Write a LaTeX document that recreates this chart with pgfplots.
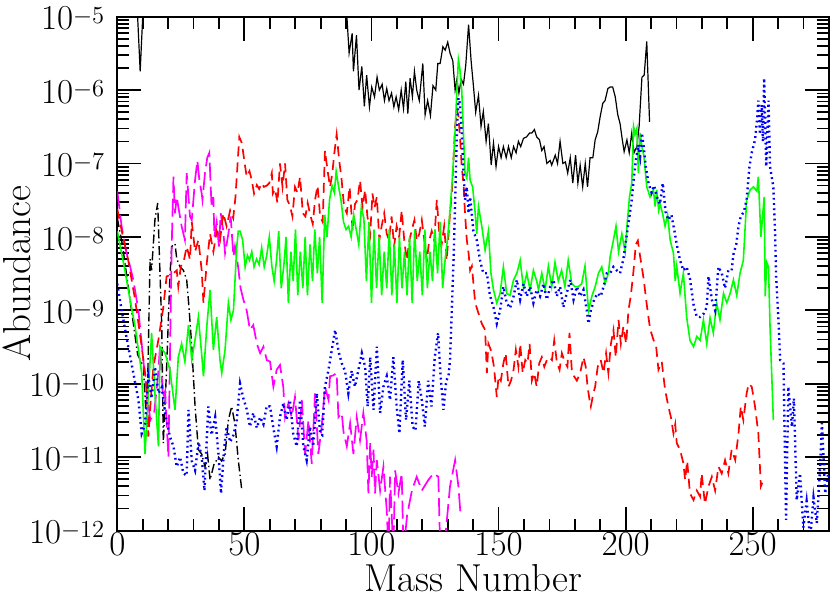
\RequirePackage{fix-cm}
\documentclass[border=0pt]{standalone}
\usepackage{pgfplots}
\pgfplotsset{compat=1.18}
\definecolor{mgt}{RGB}{255,0,255}
\definecolor{grn}{RGB}{0,255,0}
\definecolor{rd}{RGB}{255,0,0}
\definecolor{bl}{RGB}{0,0,255}
\begin{document}
\begin{tikzpicture}
\begin{axis}[
  name=ax, scale only axis, width=355.85pt, height=256.9pt,
  xmin=0, xmax=280, ymode=log, ymin=1e-12, ymax=1e-5,
  xtick={0,50,100,150,200,250}, minor xtick={0,10,...,280},
  ytick={1e-12,1e-11,1e-10,1e-9,1e-8,1e-7,1e-6,1e-5},
  log number format basis/.code 2 args={$#1^{\raisebox{-3pt}{$\scriptstyle\pgfmathprintnumber{#2}$}}$},
  tick align=inside, xtick pos=both, ytick pos=both,
  major tick length=12pt, minor tick length=6pt,
  tick style={black, line width=0.9pt},
  axis line style={line width=1pt},
  tick label style={font=\fontsize{17.5}{20}\selectfont},
  xticklabel style={yshift=2.5pt},
  yticklabel style={anchor=base east, xshift=-2.5pt, yshift=-6.6pt},
  xlabel={Mass Number}, ylabel={Abundance},
  label style={font=\fontsize{19.5}{22}\selectfont},
  xlabel style={at={(axis description cs:0.5,-0.118)}, anchor=base},
  ylabel style={at={(axis description cs:-0.122,0.5)}, anchor=base},
]
% black solid
\addplot[black, line width=0.6pt] coordinates {
(7,5.5e-5)(9,1.8e-6)(11,5.5e-5)(89.5,3e-5)
(91.2,3.2e-6)(92.4,5.9e-6)(92.9,1.8e-6)(94.1,5.6e-6)(95.1,1.0e-6)(96.2,2.1e-6)
(97.2,6.0e-7)(98.1,1.6e-6)(99.2,5.9e-7)(100.1,1.1e-6)(101.2,8.1e-7)(102.2,1.5e-6)
(103.1,1.0e-6)(104.2,1.2e-6)(105.1,7.2e-7)(106.0,1.05e-6)(106.9,7.2e-7)(107.9,9.1e-7)
(108.8,5.9e-7)(109.7,8.1e-7)(110.7,5.4e-7)(111.7,1.0e-6)(112.6,5.6e-7)(113.5,1.3e-6)
(114.3,4.8e-7)(115.2,1.45e-6)(116.1,8.1e-7)(116.9,1.8e-6)(117.8,1.0e-6)(118.8,7.2e-7)
(120.2,2.3e-6)(121.1,4.6e-7)(122.1,7.2e-7)(123.2,4.5e-7)(124.2,1.15e-6)(125.3,1.0e-6)
(126.1,2.3e-6)(127.0,2.3e-6)(128.1,3.9e-6)(129.0,3.5e-6)(130.0,4.5e-6)(130.9,3.2e-6)
(132.0,2.5e-6)(132.9,1.0e-6)(133.6,1.4e-6)(134.4,9.1e-7)(135.3,1.4e-6)(136.2,1.2e-6)
(137.1,2.2e-6)(138.2,7.8e-6)(139.2,2.5e-6)(140.1,1.15e-6)(141.0,5.0e-7)(142.1,8.5e-7)
(143.1,3.2e-7)(144.0,5.1e-7)(145.1,2.0e-7)(146.0,3.5e-7)(147.1,9.5e-8)(148.0,1.9e-7)
(149.0,9.1e-8)(150.0,1.7e-7)(151.0,1.2e-7)(151.9,1.7e-7)(153.0,1.2e-7)(153.9,1.7e-7)
(155.0,1.2e-7)(155.9,1.7e-7)(156.9,1.4e-7)(157.8,2.0e-7)(158.7,1.7e-7)(159.8,2.2e-7)
(161.0,2.3e-7)(162.2,2.6e-7)(163.1,2.6e-7)(164.1,2.9e-7)(165.0,2.3e-7)(166.1,2.1e-7)
(167.0,1.5e-7)(167.9,1.7e-7)(169.0,1.0e-7)(170.3,1.1e-7)(170.9,9.5e-8)(172.3,1.3e-7)
(173.2,1.0e-7)(174.2,2.0e-7)(175.3,1.0e-7)(176.3,1.05e-7)(177.2,7.4e-8)(178.2,1.2e-7)
(179.2,5.4e-8)(180.3,1.3e-7)(181.2,5.4e-8)(182.1,9.5e-8)(183.1,4.8e-8)(184.1,1.0e-7)
(185.0,4.8e-8)(186.0,1.2e-7)(187.1,1.2e-7)(188.0,2.1e-7)(189.0,2.7e-7)(190.0,4.4e-7)
(191.0,6.6e-7)(191.9,7.2e-7)(193.0,1.05e-6)(193.9,1.1e-6)(194.9,1.1e-6)(195.9,8.1e-7)
(196.9,4.6e-7)(197.8,3.5e-7)(198.6,2.2e-7)(199.4,1.45e-7)(200.5,2.1e-7)(201.4,1.4e-7)
(202.4,2.6e-7)(203.3,1.4e-7)(204.4,1.7e-7)(205.3,3.2e-7)(206.4,1.5e-6)(207.3,1.6e-6)
(208.3,4.6e-6)(209.4,3.7e-7)
};
% black dash-dot
\addplot[black, line width=0.7pt, dash pattern=on 4.5pt off 1.6pt on 0.7pt off 1.6pt] coordinates {
(0,1.8e-8)(2.0,7.9e-9)(4.0,2.5e-9)(6.0,7.9e-10)(8.0,2.5e-10)(10.3,1.7e-10)(11.6,2.5e-11)
(12.9,5.0e-9)(13.5,3.5e-9)(14.8,1.7e-8)(15.9,2.9e-8)(16.4,8.3e-9)(17.5,6.0e-10)(18.1,1.55e-11)
(19.4,1.6e-10)(20.7,2.9e-9)(21.4,7.4e-9)(22.7,8.1e-9)(23.4,5.0e-9)(24.7,3.9e-9)(26.0,3.5e-9)
(27.3,2.6e-9)(28.2,1.1e-9)(29.3,3.2e-10)(30.6,4.9e-11)(31.9,1.26e-11)(33.2,1.1e-11)
(34.5,7.4e-12)(35.5,1.1e-11)(36.5,4.9e-12)(38.0,7.9e-12)(39.8,1.0e-11)(41.0,8.9e-12)
(42.4,1.1e-11)(43.7,3.2e-11)(45.0,4.9e-11)(46.3,2.8e-11)(47.6,9.1e-12)(49.0,3.5e-12)
};
% magenta long dash
\addplot[mgt, line width=0.85pt, dash pattern=on 9pt off 3pt] coordinates {
(0,4.2e-8)(1.7,1.4e-8)(3.5,6.3e-9)(5.0,4.0e-9)(6.3,2.6e-9)(8.3,1.0e-9)(10.0,2.5e-10)
(11.5,7.9e-11)(13.0,3.2e-11)(14.5,4.0e-11)(16.0,1.26e-10)(16.8,3.2e-10)(18.0,6.3e-11)
(18.8,7.9e-11)(20.1,1.0e-11)(21.4,7.4e-9)(22.1,6.6e-8)(22.7,2.1e-8)(23.4,3.5e-8)(24.0,2.6e-8)
(25.3,1.4e-8)(26.6,9.1e-9)(27.3,7.4e-8)(28.6,1.9e-8)(29.3,1.7e-8)(30.6,6.0e-8)(31.5,1.1e-7)
(32.3,5.9e-8)(33.2,3.9e-8)(33.5,3.2e-8)(34.5,7.4e-8)(35.4,1.2e-7)(36.2,1.4e-7)(37.1,2.5e-8)
(37.8,3.5e-8)(38.2,1.0e-8)(39.1,1.6e-8)(40.0,7.4e-9)(40.7,2.1e-8)(41.7,1.2e-8)(42.4,6.0e-9)
(43.7,1.1e-8)(44.6,1.9e-8)(45.7,5.4e-9)(46.3,7.4e-9)(47.5,4.0e-9)(48.5,2.0e-9)(49.6,1.4e-9)
(50.9,1.0e-9)(52.2,5.4e-10)(53.5,6.3e-10)(54.9,3.5e-10)(56.2,2.6e-10)(57.5,3.2e-10)
(58.8,2.1e-10)(60.1,2.0e-10)(61.4,9.1e-11)(62.7,1.55e-10)(64.0,1.8e-10)(65.3,9.1e-11)
(66.0,3.5e-11)(67.3,5.4e-11)(68.6,3.5e-11)(69.9,6.6e-11)(71.3,1.7e-11)(72.6,6.0e-11)
(73.9,1.1e-11)(75.2,3.2e-11)(76.5,8.1e-12)(77.8,7.4e-11)(79.1,1.1e-11)(80.4,2.6e-11)
(81.7,9.1e-11)(83.1,6.0e-11)(83.7,1.26e-10)(85.0,1.3e-10)(86.3,1.4e-10)(87.0,3.5e-11)
(88.3,4.0e-11)(89.0,2.2e-11)(90.3,1.4e-11)(91.6,2.9e-11)(92.9,1.1e-11)(94.2,3.5e-11)
(95.5,1.7e-11)(96.8,4.0e-11)(98.1,1.7e-11)(98.8,3.2e-12)(99.5,1.55e-11)(100.1,5.4e-12)
(100.8,1.26e-11)(101.4,3.2e-12)(102.1,9.1e-12)(103.4,3.5e-12)(104.7,7.4e-12)(106.0,1.9e-12)
(106.7,5.0e-13)(107.3,5.4e-12)(108.6,5.0e-13)(109.3,6.6e-12)(110.6,3.2e-12)(111.9,6.0e-12)
(112.6,5.0e-13)(114.0,1.6e-12)(115.9,3.5e-12)(117.8,5.4e-12)(119.8,3.5e-12)(122.4,4.9e-12)
(124.4,6.0e-12)(126.3,5.4e-12)(127.0,6.3e-13)(129.0,7.9e-13)(130.9,4.0e-12)(132.9,9.1e-12)
(134.2,4.0e-12)(135.1,1.55e-12)
};
% red dashed
\addplot[rd, line width=0.85pt, dash pattern=on 5pt off 3pt] coordinates {
(0,2.4e-8)(2.0,1.1e-8)(4.3,4.8e-9)(7.0,1.4e-9)(9.6,3.2e-10)(11.6,9.1e-11)(12.2,1.9e-11)
(13.2,6.3e-11)(14.2,1.7e-10)(16.2,4.0e-10)(18.1,1.1e-9)(19.4,2.9e-9)(20.7,3.0e-9)(22.1,3.2e-9)
(23.4,3.5e-9)(24.0,2.1e-9)(25.0,4.0e-9)(26.0,4.4e-9)(27.3,7.4e-9)(28.6,4.9e-9)(29.3,1.6e-8)
(30.6,6.3e-9)(31.9,9.1e-9)(33.2,3.5e-9)(33.9,1.26e-9)(35.2,4.4e-9)(36.5,1.1e-8)(37.8,6.3e-9)
(39.1,1.2e-8)(40.4,8.9e-9)(41.7,2.1e-8)(43.0,1.4e-8)(44.4,2.3e-8)(45.6,1.8e-8)(46.5,3.5e-8)
(47.4,1.1e-7)(48.0,2.3e-7)(49.0,1.9e-7)(50.3,9.1e-8)(50.9,6.6e-8)(52.0,7.9e-8)(52.9,5.9e-8)
(53.8,3.9e-8)(54.9,5.1e-8)(55.8,4.5e-8)(56.8,5.4e-8)(57.7,4.8e-8)(58.8,5.0e-8)(59.8,5.4e-8)
(60.8,7.4e-8)(61.2,3.9e-8)(62.1,4.5e-8)(63.0,2.9e-8)(64.0,1.0e-7)(65.0,4.8e-8)(66.0,1.0e-7)
(66.9,3.2e-8)(68.0,2.6e-8)(68.9,1.9e-8)(69.9,4.8e-8)(70.9,4.0e-8)(71.9,6.6e-8)(73.0,2.1e-8)
(74.0,1.9e-8)(74.9,2.9e-8)(75.9,2.0e-8)(76.9,1.5e-8)(77.8,3.2e-8)(78.8,5.0e-8)(79.8,1.9e-8)
(80.8,1.6e-8)(81.7,1.5e-7)(82.7,8.1e-8)(83.7,4.8e-8)(84.6,7.4e-8)(85.4,1.4e-7)(86.3,2.5e-7)
(87.3,1.1e-7)(88.2,6.3e-8)(89.2,2.6e-8)(90.3,2.1e-8)(91.4,4.8e-8)(92.6,1.2e-8)(93.5,2.8e-8)
(94.5,3.2e-8)(95.5,5.9e-8)(96.5,2.5e-8)(97.5,4.4e-8)(98.4,1.9e-8)(99.5,1.1e-8)(100.4,3.9e-8)
(101.2,2.5e-8)(102.1,3.5e-8)(103.1,9.1e-9)(104.0,1.4e-8)(105.0,2.1e-8)(106.0,1.1e-8)
(106.9,9.1e-9)(107.9,1.9e-8)(108.9,7.4e-9)(109.9,1.4e-8)(110.9,1.0e-8)(111.9,2.3e-8)
(112.9,8.9e-9)(113.9,4.8e-9)(114.9,8.9e-9)(115.9,1.26e-8)(116.9,1.7e-8)(117.8,8.9e-9)
(118.8,1.1e-8)(119.8,1.7e-8)(120.8,8.9e-9)(121.8,4.8e-9)(122.7,8.9e-9)(123.7,1.2e-8)
(124.7,8.9e-9)(125.7,3.2e-8)(126.7,1.1e-8)(127.6,7.9e-9)(128.6,1.4e-8)(129.6,4.8e-9)
(130.9,2.1e-8)(131.6,3.9e-8)(132.3,1.2e-7)(132.9,3.2e-7)(133.6,5.4e-7)(134.2,4.5e-7)
(134.9,2.1e-7)(135.5,9.1e-8)(136.2,5.4e-8)(136.8,2.1e-8)(137.5,9.1e-9)(138.2,6.0e-9)
(138.8,3.5e-9)(139.5,4.0e-9)(140.8,1.26e-9)(142.1,9.1e-10)(143.4,6.6e-10)(144.7,5.4e-10)
(145.4,1.4e-10)(146.0,3.5e-10)(147.1,2.8e-10)(148.2,1.7e-10)(149.3,6.6e-11)(150.0,1.26e-10)
(150.9,1.1e-10)(151.9,1.9e-10)(152.8,2.6e-10)(153.9,9.1e-11)(154.9,1.1e-10)(155.9,1.55e-10)
(156.8,2.9e-10)(157.8,1.7e-10)(158.5,3.5e-10)(159.5,1.4e-10)(160.5,2.1e-10)(161.4,1.9e-10)
(162.2,3.5e-10)(163.1,1.1e-10)(164.0,1.4e-10)(165.0,9.1e-11)(166.0,1.9e-10)(167.0,2.3e-10)
(168.0,1.7e-10)(169.0,2.1e-10)(170.0,2.3e-10)(171.0,2.1e-10)(171.9,3.9e-10)(172.9,2.0e-10)
(174.0,1.55e-10)(174.9,2.6e-10)(176.0,2.0e-10)(177.1,1.7e-10)(177.9,4.9e-10)(178.8,1.55e-10)
(179.7,1.26e-10)(180.8,1.1e-10)(182.1,1.4e-10)(183.4,2.3e-10)(184.3,1.7e-10)(185.0,9.1e-11)
(185.8,6.0e-11)(186.3,4.9e-11)(187.3,7.4e-11)(188.0,9.1e-11)(189.0,1.7e-10)(190.2,2.1e-10)
(191.3,1.4e-10)(192.3,2.6e-10)(193.2,1.4e-10)(194.2,3.5e-10)(195.2,5.4e-10)(196.1,2.3e-10)
(197.2,7.4e-10)(198.1,3.5e-10)(199.1,6.0e-10)(200.2,3.5e-10)(201.1,1.0e-9)(202.0,1.55e-9)
(203.0,3.2e-9)(204.0,7.9e-9)(204.8,8.9e-9)(205.7,5.4e-9)(207.0,2.8e-9)(208.3,1.2e-9)
(209.6,5.6e-10)(211.0,3.9e-10)(212.0,3.2e-10)(212.9,1.55e-10)(214.2,2.0e-10)(215.5,8.3e-11)
(216.8,4.9e-11)(217.8,3.5e-11)(218.8,2.1e-11)(219.5,2.8e-11)(220.1,1.55e-11)(221.4,1.26e-11)
(222.7,8.3e-12)(223.4,4.9e-12)(224.2,8.9e-12)(225.3,3.2e-12)(226.7,2.6e-12)(228.0,3.5e-12)
(229.3,2.9e-12)(229.9,6.0e-12)(231.2,2.3e-12)(232.6,4.0e-12)(233.9,5.4e-12)(235.2,3.5e-12)
(236.5,7.4e-12)(237.8,6.0e-12)(239.1,9.1e-12)(240.4,6.0e-12)(241.7,1.26e-11)(243.1,9.1e-12)
(244.4,2.1e-11)(245.3,4.9e-11)(246.3,3.2e-11)(247.6,7.4e-11)(248.4,1.0e-10)(249.6,9.1e-11)
(250.9,4.9e-11)(252.2,2.1e-11)(253.2,4.0e-12)(254.2,4.9e-12)
};
% green solid
\addplot[grn, line width=0.8pt] coordinates {
(0,1.2e-8)(3.0,3.5e-9)(5.0,1.4e-9)(7.0,6.0e-10)(9.6,1.4e-10)(10.9,1.1e-11)(12.2,7.4e-11)
(13.5,4.9e-10)(14.8,7.4e-11)(16.2,1.4e-11)(16.8,3.2e-10)(18.8,2.6e-10)(20.7,1.55e-10)
(22.7,4.4e-11)(24.0,2.3e-10)(25.3,3.5e-10)(26.6,2.0e-10)(28.0,6.3e-10)(29.3,2.1e-10)
(30.6,4.0e-10)(31.9,8.1e-10)(33.2,2.5e-10)(33.9,1.26e-10)(35.2,6.0e-10)(36.5,1.9e-9)
(37.8,2.9e-10)(39.1,8.1e-10)(40.4,2.1e-10)(41.1,1.4e-10)(42.4,2.9e-10)(43.7,1.26e-9)
(44.7,7.4e-10)(45.7,1.0e-9)(47.0,7.4e-9)(47.6,1.2e-8)(48.3,1.2e-8)(49.3,9.1e-9)(50.3,3.9e-9)
(51.2,5.6e-9)(52.0,4.8e-9)(52.9,6.3e-9)(53.8,3.9e-9)(54.8,5.0e-9)(55.8,4.2e-9)(56.8,7.1e-9)
(57.8,3.9e-9)(58.8,5.6e-9)(59.8,1.0e-8)(60.8,4.0e-9)(61.7,2.5e-9)(62.7,5.0e-9)(63.5,1.2e-8)
(64.5,2.0e-9)(65.5,4.0e-9)(66.4,1.0e-8)(67.3,1.26e-9)(68.3,6.3e-9)(69.2,2.5e-9)(70.1,1.26e-8)
(71.0,1.6e-9)(72.0,6.3e-9)(73.0,2.0e-9)(73.9,1.0e-8)(74.8,1.6e-9)(75.8,7.9e-9)(76.8,2.5e-9)
(77.7,1.26e-8)(78.7,3.2e-9)(79.6,1.0e-8)(80.6,1.26e-9)(81.6,2.0e-8)(82.5,1.0e-8)(83.5,3.2e-8)
(84.5,5.0e-8)(85.4,4.0e-8)(86.1,7.8e-8)(87.0,5.0e-8)(88.0,3.2e-8)(89.0,1.6e-8)(90.0,1.26e-8)
(91.0,1.4e-8)(92.0,1.0e-8)(93.0,2.0e-8)(94.0,1.26e-8)(95.0,7.9e-9)(96.0,2.5e-8)(97.0,1.8e-8)
(98.0,2.5e-9)(99.0,1.6e-8)(100.0,1.26e-9)(101.0,1.26e-8)(102.0,2.0e-9)(103.0,1.0e-8)
(104.0,1.6e-9)(105.0,6.3e-9)(106.0,2.0e-9)(107.0,1.26e-8)(108.0,1.6e-9)(109.0,7.9e-9)
(110.0,1.26e-9)(111.0,1.0e-8)(112.0,2.0e-9)(113.0,6.3e-9)(114.0,1.6e-9)(115.0,1.0e-8)
(116.0,1.26e-9)(117.0,1.26e-8)(118.0,2.5e-9)(119.0,6.3e-9)(120.0,1.6e-9)(121.0,1.26e-8)
(122.0,2.0e-9)(123.0,6.3e-9)(124.0,2.5e-9)(125.0,1.26e-8)(126.0,3.2e-9)(127.0,1.6e-8)
(128.0,2.0e-9)(129.0,5.0e-9)(130.0,1.0e-8)(131.0,2.5e-8)(132.0,7.9e-8)(133.0,3.2e-7)
(133.6,1.0e-6)(134.2,2.6e-6)(134.8,1.9e-6)(135.5,1.0e-6)(136.2,2.5e-7)(136.8,7.4e-8)
(137.5,6.3e-8)(138.2,1.2e-7)(138.8,5.9e-8)(139.8,4.8e-8)(140.8,2.1e-8)(141.4,1.1e-8)
(142.1,2.6e-8)(143.4,1.4e-8)(144.7,6.6e-9)(146.0,1.2e-8)(147.0,3.2e-9)(148.0,1.9e-9)
(149.3,1.26e-9)(150.6,1.7e-9)(151.9,3.9e-9)(153.2,1.7e-9)(154.5,1.6e-9)(155.9,2.6e-9)
(157.2,3.2e-9)(158.5,4.8e-9)(159.8,2.0e-9)(161.1,3.2e-9)(162.4,1.9e-9)(163.7,3.5e-9)
(165.0,2.5e-9)(165.7,1.9e-9)(167.0,3.2e-9)(168.3,1.9e-9)(169.6,4.0e-9)(170.9,2.1e-9)
(172.2,4.5e-9)(173.5,2.5e-9)(174.8,3.5e-9)(176.1,2.1e-9)(177.4,4.8e-9)(178.8,2.3e-9)
(180.1,2.1e-9)(181.4,2.1e-9)(182.7,2.3e-9)(184.0,4.0e-9)(185.4,1.0e-9)(186.7,1.55e-9)
(188.0,2.1e-9)(189.3,3.2e-9)(190.6,3.9e-9)(191.9,2.3e-9)(193.2,3.2e-9)(193.9,5.4e-9)
(195.2,9.1e-9)(196.2,1.4e-8)(197.2,6.3e-9)(198.5,1.1e-8)(199.8,6.3e-9)(200.5,1.4e-8)
(201.5,3.5e-8)(202.4,5.4e-8)(203.1,3.2e-7)(203.7,2.5e-7)(204.4,3.0e-7)(205.0,7.4e-8)
(205.7,2.6e-7)(206.4,1.7e-7)(207.2,1.26e-7)(208.3,4.8e-8)(209.6,3.5e-8)(210.9,4.4e-8)
(211.6,2.6e-8)(212.2,4.4e-8)(213.0,2.3e-8)(213.6,2.8e-8)(214.5,2.1e-8)(215.5,1.4e-8)
(216.5,2.0e-8)(217.5,9.1e-9)(218.8,6.0e-9)(219.5,2.5e-9)(220.1,4.0e-9)(221.4,1.7e-9)
(222.7,3.2e-9)(224.0,8.1e-10)(225.3,3.9e-10)(226.7,3.2e-10)(228.0,4.4e-10)(229.3,3.9e-10)
(230.6,7.4e-10)(231.9,3.5e-10)(233.2,7.9e-10)(234.5,4.9e-10)(235.8,1.26e-9)(237.1,7.4e-10)
(238.5,1.7e-9)(239.8,1.26e-9)(241.1,1.7e-9)(242.4,2.6e-9)(243.7,1.6e-9)(245.0,3.2e-9)
(246.3,4.8e-9)(247.6,3.2e-8)(249.0,4.4e-8)(250.3,4.8e-8)(251.6,4.2e-8)(252.2,6.6e-8)
(253.2,1.0e-8)(254.5,3.5e-8)(254.9,1.55e-9)(255.5,4.5e-9)(256.2,3.9e-9)(256.8,6.0e-10)
(258.1,3.2e-11)
};
% blue dotted
\addplot[bl, line width=1.2pt, dash pattern=on 0.9pt off 1.7pt] coordinates {
(0,2.3e-9)(1.7,1.0e-9)(4.3,3.2e-10)(6.3,1.4e-10)(8.3,6.0e-11)(9.6,2.1e-11)(10.9,2.8e-11)
(12.2,1.26e-10)(13.5,6.3e-11)(14.8,1.7e-10)(16.2,7.4e-11)(17.5,8.9e-11)(18.8,4.0e-11)
(20.7,1.9e-11)(22.1,1.4e-11)(23.4,7.4e-12)(24.7,1.0e-11)(26.0,6.0e-12)(27.3,5.6e-12)
(28.0,4.4e-11)(29.3,8.9e-12)(30.6,6.6e-12)(32.0,1.6e-11)(33.2,1.0e-11)(34.3,3.5e-12)
(35.8,4.9e-11)(37.1,2.0e-11)(38.5,3.5e-11)(39.8,1.1e-11)(40.8,3.2e-12)(42.0,1.26e-11)
(43.0,2.6e-11)(44.4,1.6e-11)(45.7,2.0e-11)(47.0,3.2e-11)(48.3,1.0e-10)(49.6,6.3e-11)
(50.9,4.5e-11)(52.2,2.6e-11)(53.5,4.0e-11)(54.9,2.5e-11)(56.2,3.5e-11)(57.5,2.8e-11)
(58.8,5.0e-11)(60.1,4.9e-11)(61.4,2.5e-11)(62.7,1.4e-11)(64.0,3.5e-11)(65.3,5.4e-11)
(66.6,3.2e-11)(67.9,6.0e-11)(69.2,2.1e-11)(70.6,1.4e-11)(71.9,6.0e-11)(73.2,1.4e-11)
(74.5,9.1e-12)(75.8,2.6e-11)(77.1,1.4e-11)(78.5,7.4e-11)(79.8,2.1e-11)(80.6,2.0e-11)
(81.7,9.1e-11)(83.1,1.55e-10)(84.4,2.9e-10)(85.7,5.4e-10)(87.0,2.8e-10)(88.3,1.9e-10)
(89.6,1.5e-10)(90.9,7.4e-11)(92.2,1.5e-10)(93.5,9.1e-11)(94.8,1.5e-10)(96.2,2.6e-10)
(97.5,1.7e-10)(98.5,4.9e-11)(99.5,2.3e-10)(100.8,4.4e-11)(102.1,3.2e-10)(103.4,4.0e-11)
(104.7,9.1e-11)(106.0,1.26e-10)(107.3,6.0e-11)(108.6,2.3e-10)(109.9,4.9e-11)(111.0,2.1e-11)
(112.3,2.1e-10)(113.6,3.2e-11)(114.9,1.1e-10)(116.2,2.6e-11)(117.3,2.3e-11)(118.6,1.1e-10)
(119.8,6.0e-11)(121.0,2.6e-11)(122.3,1.1e-10)(123.6,4.9e-11)(124.9,2.3e-10)(126.2,4.9e-10)
(127.2,1.26e-10)(128.3,4.4e-11)(129.4,1.1e-10)(130.3,1.26e-10)(130.9,2.1e-10)(131.6,1.0e-9)
(132.3,5.0e-9)(132.7,1.6e-8)(133.2,7.4e-8)(133.6,2.6e-7)(134.2,7.8e-7)(134.8,6.6e-7)
(135.5,2.6e-7)(136.2,7.9e-8)(136.8,3.2e-8)(137.5,4.8e-8)(138.2,2.1e-8)(138.8,3.5e-8)
(140.1,1.2e-8)(141.4,9.1e-9)(142.7,4.8e-9)(144.0,3.2e-9)(145.4,3.2e-9)(146.6,1.6e-9)
(148.0,1.1e-9)(149.3,6.6e-10)(150.6,1.0e-9)(151.9,2.1e-9)(153.2,1.26e-9)(154.5,1.07e-9)
(155.9,1.55e-9)(157.2,2.6e-9)(158.5,1.4e-9)(159.8,2.3e-9)(161.1,1.55e-9)(162.4,2.1e-9)
(163.7,1.26e-9)(165.0,1.9e-9)(166.3,1.55e-9)(167.7,2.3e-9)(169.0,1.4e-9)(170.3,2.1e-9)
(171.6,2.6e-9)(172.9,1.55e-9)(174.2,2.1e-9)(175.5,1.1e-9)(176.8,1.7e-9)(178.2,2.6e-9)
(179.5,1.4e-9)(180.8,2.1e-9)(182.1,1.55e-9)(183.4,1.9e-9)(184.7,1.0e-9)(185.4,6.6e-10)
(186.3,1.0e-9)(187.6,1.4e-9)(188.9,1.7e-9)(190.2,1.55e-9)(191.3,2.1e-9)(192.6,3.2e-9)
(193.9,3.2e-9)(195.2,3.9e-9)(196.5,3.5e-9)(197.8,3.2e-9)(199.1,5.0e-9)(200.5,1.1e-8)
(201.4,1.8e-8)(202.4,3.2e-8)(203.2,6.3e-8)(204.0,1.1e-7)(205.0,1.8e-7)(205.7,1.26e-7)
(206.4,2.6e-7)(207.2,1.6e-7)(207.9,9.1e-8)(209.0,5.4e-8)(210.2,4.0e-8)(211.2,5.0e-8)
(212.3,3.5e-8)(213.5,2.8e-8)(214.6,5.4e-8)(215.7,2.2e-8)(216.8,1.7e-8)(218.0,2.0e-8)
(219.4,1.1e-8)(220.1,7.9e-9)(221.4,4.8e-9)(222.7,3.5e-9)(224.0,3.9e-9)(225.3,2.7e-9)
(226.7,1.2e-9)(228.0,8.1e-10)(229.3,8.1e-10)(230.6,8.9e-10)(231.9,1.1e-9)(232.6,2.9e-9)
(233.9,1.4e-9)(235.2,1.0e-9)(236.5,3.9e-9)(237.8,3.2e-9)(239.1,2.0e-9)(240.4,3.5e-9)
(241.7,3.5e-9)(242.4,5.8e-9)(243.5,7.9e-9)(244.4,1.4e-8)(245.3,1.9e-8)(246.5,2.2e-8)
(247.6,3.2e-8)(248.7,9.1e-8)(249.6,1.4e-7)(250.9,2.1e-7)(251.8,4.4e-7)(252.2,7.2e-7)
(252.8,2.5e-7)(253.5,6.3e-7)(254.0,2.0e-7)(254.5,1.45e-6)(255.3,9.1e-8)(256.2,7.2e-7)
(256.8,9.1e-8)(258.1,4.8e-8)(258.8,1.1e-8)(259.2,2.9e-9)(260.1,7.4e-10)(260.8,2.1e-10)
(262.1,1.9e-10)(263.1,1.4e-12)(264.0,9.1e-11)(265.4,2.6e-11)(266.2,6.3e-11)(267.3,2.6e-12)
(268.6,6.0e-12)(269.9,1.1e-12)(271.2,2.5e-12)(272.6,7.9e-13)(273.9,2.8e-12)(275.2,1.26e-12)
(276.5,7.4e-12)(277.2,2.9e-11)(278.5,3.2e-12)(279.8,6.3e-12)
};
\end{axis}
\pgfresetboundingbox
\path[use as bounding box] ([xshift=-58.65pt,yshift=-33.25pt]ax.south west) rectangle ([xshift=0.5pt,yshift=8.35pt]ax.north east);
\end{tikzpicture}
\end{document}
